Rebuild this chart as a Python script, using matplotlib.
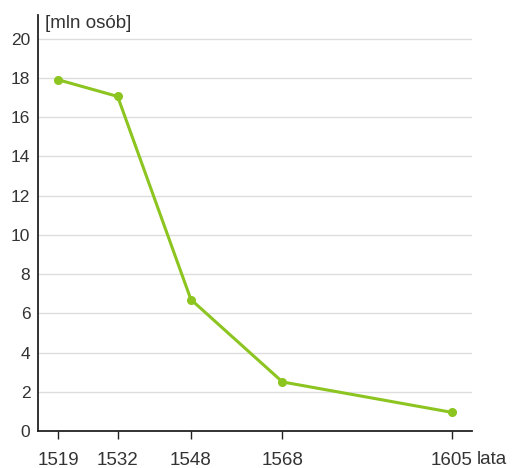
import matplotlib
matplotlib.use("Agg")
import matplotlib.pyplot as plt

years = [1519, 1532, 1548, 1568, 1605]
population = [17.9, 17.05, 6.7, 2.5, 0.95]
y_ticks = [0, 2, 4, 6, 8, 10, 12, 14, 16, 18, 20]

plt.rcParams['font.family'] = ['Liberation Sans', 'DejaVu Sans']
W, H = 513, 468
fig = plt.figure(figsize=(W/100, H/100), dpi=100)
ax = fig.add_axes([38/W, (H-431)/H, (472-38)/W, (431-15)/H])

green = '#8cc420'
ax.plot(years, population, color=green, lw=2.2, marker='o', ms=5.5, zorder=3, clip_on=False)

ax.set_xlim(1514.6, 1609.4)
ax.set_ylim(0, 21.2)
ax.set_yticks(y_ticks)
ax.set_xticks(years)
ax.set_xticklabels([str(y) for y in years])
for y in y_ticks[1:]:
    ax.axhline(y, color='#dddddd', lw=1, zorder=1)

for s in ['top', 'right']:
    ax.spines[s].set_visible(False)
ax.spines['left'].set_color('#222222')
ax.spines['bottom'].set_color('#222222')
ax.spines['left'].set_linewidth(1.3)
ax.spines['bottom'].set_linewidth(1.3)

ax.tick_params(axis='y', length=0, pad=5.5, labelsize=12.5, labelcolor='#333333')
ax.tick_params(axis='x', length=6, width=1, color='#222222', direction='out', pad=9,
               labelsize=13.5, labelcolor='#333333')

fig.text(45/W, 1-24/H, '[mln osób]', fontsize=13.5, color='#333333', ha='left', va='center')
fig.text(477/W, 1-459/H, 'lata', fontsize=13.5, color='#333333', ha='left', va='center')

fig.savefig('out.png', dpi=100)
